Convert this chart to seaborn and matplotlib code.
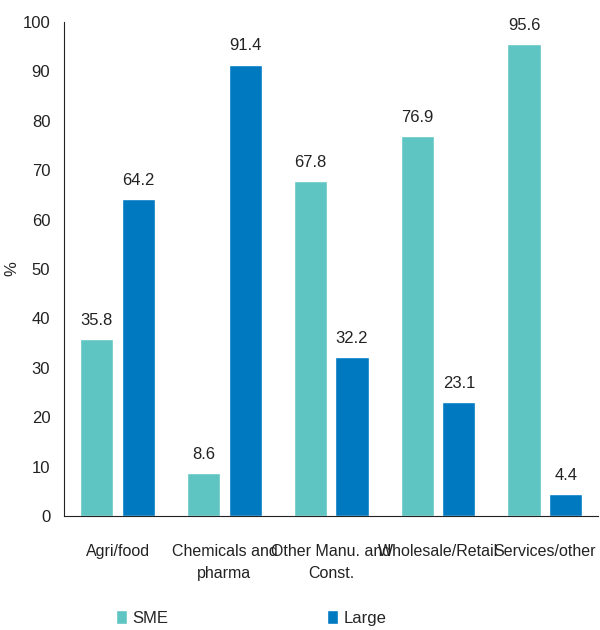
import pandas as pd
import matplotlib
matplotlib.use('Agg')
import matplotlib.pyplot as plt
import seaborn as sns

# Datos del gráfico
sectores = ['Agri/food', 'Chemicals and\npharma', 'Other Manu. and\nConst.', 'Wholesale/Retail', 'Services/other']
sme = [35.8, 8.6, 67.8, 76.9, 95.6]
large = [64.2, 91.4, 32.2, 23.1, 4.4]

sns.set_style('white')
plt.rcParams['font.family'] = ['Liberation Sans', 'DejaVu Sans']

df = pd.DataFrame({'Sector': sectores * 2,
                   'Tamaño': ['SME'] * 5 + ['Large'] * 5,
                   'Valor': sme + large})

colores = {'SME': '#5EC5C2', 'Large': '#0079C1'}

fig = plt.figure(figsize=(6, 6.3), dpi=100)
ax = fig.add_axes([0.107, 0.181, 0.89, 0.784])
sns.barplot(data=df, x='Sector', y='Valor', hue='Tamaño', palette=colores,
            width=0.78, gap=0.2, ax=ax, saturation=1)

# Etiquetas de valor encima de cada barra
for cont in ax.containers:
    ax.bar_label(cont, fmt='%.1f', padding=8, fontsize=12, color='#222222')

ax.set_ylim(0, 100)
ax.set_xlim(-0.5, 4.5)
ax.set_yticks(range(0, 101, 10))
ax.set_xlabel('')
ax.set_ylabel('%', fontsize=12, labelpad=2)
ax.tick_params(axis='y', labelsize=12, length=0, colors='#222222', pad=10)
ax.tick_params(axis='x', labelsize=11.5, length=0, colors='#222222', pad=20)
for lbl in ax.get_xticklabels():
    lbl.set_linespacing(1.6)
sns.despine(ax=ax)
ax.spines['left'].set_color('#222222')
ax.spines['bottom'].set_color('#222222')

ax.legend(loc='upper center', bbox_to_anchor=(0.35, -0.16), ncol=2, frameon=False,
          fontsize=12, columnspacing=9.5, handlelength=0.7, handleheight=0.9, handletextpad=0.3)

fig.savefig('out.png', dpi=100)
